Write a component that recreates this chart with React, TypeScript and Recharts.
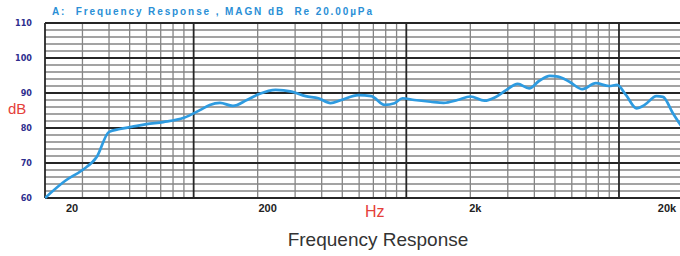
import { LineChart, Line, XAxis, YAxis, ReferenceLine } from 'recharts';

// frequency response (Hz / dB SPL)
const freqHz = [
  20, 25, 30, 35, 40, 45, 51, 60, 72, 90,
  107, 119, 133, 153, 178, 203, 243, 289, 336, 386,
  440, 495, 595, 685, 790, 880, 960, 1090, 1300, 1500,
  1740, 2000, 2330, 2620, 2960, 3340, 3780, 4220, 4730, 5170,
  5850, 6730, 7780, 8970, 9800, 10800, 12100, 13200, 15000, 16100,
  17900, 19700,
];
const levelDb = [
  60, 65, 68, 71.7, 78.9, 79.7, 80.3, 81.1, 81.7, 82.9,
  85.1, 86.6, 87.2, 86.3, 88, 89.7, 90.9, 90.4, 89.1, 88.5,
  87.1, 88, 89.4, 89.1, 86.6, 87.1, 88.5, 88, 87.5, 87.2,
  88, 89, 87.8, 88.8, 90.9, 92.6, 91.3, 93.5, 94.9, 94.7,
  93.2, 91.1, 92.8, 92, 92.3, 89.4, 85.6, 86.6, 89.1, 88.9,
  84.3, 80.4,
];

const xTicks = [20, 200, 2000, 20000];
const yTicks = [60, 70, 80, 90, 100, 110];
const majorHz = [20, 100, 1000, 10000, 20000];
const minorHz = [30, 40, 50, 60, 70, 80, 90, 200, 300, 400, 500, 600, 700, 800, 900,
  2000, 3000, 4000, 5000, 6000, 7000, 8000, 9000];
const minorDb = [62, 64, 66, 68, 72, 74, 76, 78, 82, 84, 86, 88, 92, 94, 96, 98, 102, 104, 106, 108];

const data = freqHz.map((f, i) => ({ f, db: levelDb[i] }));

// labels in the original sit a bit right of their grid line
const labelShift: Record<number, number> = { 20: 27, 200: 10, 2000: 5, 20000: -13 };

const fmtHz = (v: number) => (v >= 1000 ? `${v / 1000}k` : `${v}`);

const XTick = ({ x, y, payload }: any) => (
  <text
    x={x + (labelShift[payload.value] ?? 0)}
    y={y}
    dy={14}
    textAnchor="middle"
    fill="#222"
    fontSize={11}
    fontWeight="bold"
    fontFamily="Liberation Sans, Arial, sans-serif"
  >
    {fmtHz(payload.value)}
  </text>
);

const YTick = ({ x, y, payload }: any) => (
  <text
    x={x}
    y={y}
    dy={3}
    textAnchor="end"
    fill="#2e2e8e"
    fontSize={9}
    fontWeight="bold"
    fontFamily="DejaVu Sans Condensed, DejaVu Sans, sans-serif"
  >
    {payload.value}
  </text>
);

const minorStroke = '#858585';
const majorStroke = '#262626';

export default function App() {
  return (
    <div style={{ position: 'absolute', left: 0, top: 0, width: 680, height: 256, overflow: 'hidden', background: '#fff' }}>
      <div
        style={{
          position: 'absolute', left: 52, top: 6, fontFamily: 'Liberation Sans, Arial, sans-serif',
          fontSize: 10, fontWeight: 'bold', color: '#2a8fd6', letterSpacing: 1.9, whiteSpace: 'pre',
        }}
      >
        {'A:  Frequency Response , MAGN dB  Re 20.00µPa'}
      </div>
      <LineChart width={700} height={256} data={data} margin={{ top: 23, right: 17, bottom: 28, left: 0 }}>
        <XAxis
          dataKey="f"
          type="number"
          scale="log"
          domain={[20, 20000]}
          ticks={xTicks}
          allowDataOverflow
          axisLine={false}
          tickLine={false}
          tickSize={0}
          tickMargin={0}
          height={30}
          tick={<XTick />}
        />
        <YAxis
          domain={[60, 110]}
          ticks={yTicks}
          axisLine={false}
          tickLine={false}
          tickSize={0}
          tickMargin={13}
          width={45}
          tick={<YTick />}
        />
        {minorDb.map(v => (
          <ReferenceLine key={`my${v}`} y={v} stroke={minorStroke} strokeWidth={1.3} />
        ))}
        {minorHz.map(v => (
          <ReferenceLine key={`mx${v}`} x={v} stroke={minorStroke} strokeWidth={1.3} />
        ))}
        {yTicks.map(v => (
          <ReferenceLine key={`My${v}`} y={v} stroke={majorStroke} strokeWidth={1.8} />
        ))}
        {majorHz.map(v => (
          <ReferenceLine key={`Mx${v}`} x={v} stroke={majorStroke} strokeWidth={1.8} />
        ))}
        <Line type="monotone" dataKey="db" stroke="#2e9be0" strokeWidth={2.7} dot={false} isAnimationActive={false} />
      </LineChart>
      <div style={{ position: 'absolute', left: 8, top: 100, fontFamily: 'Liberation Sans, Arial, sans-serif', fontSize: 15, color: '#e5403a' }}>
        dB
      </div>
      <div style={{ position: 'absolute', left: 365, top: 203, fontFamily: 'Liberation Sans, Arial, sans-serif', fontSize: 16, color: '#e5403a' }}>
        Hz
      </div>
      <div style={{ position: 'absolute', left: 278, width: 200, textAlign: 'center', top: 229, fontFamily: 'Liberation Sans, Arial, sans-serif', fontSize: 19, color: '#333' }}>
        Frequency Response
      </div>
    </div>
  );
}
